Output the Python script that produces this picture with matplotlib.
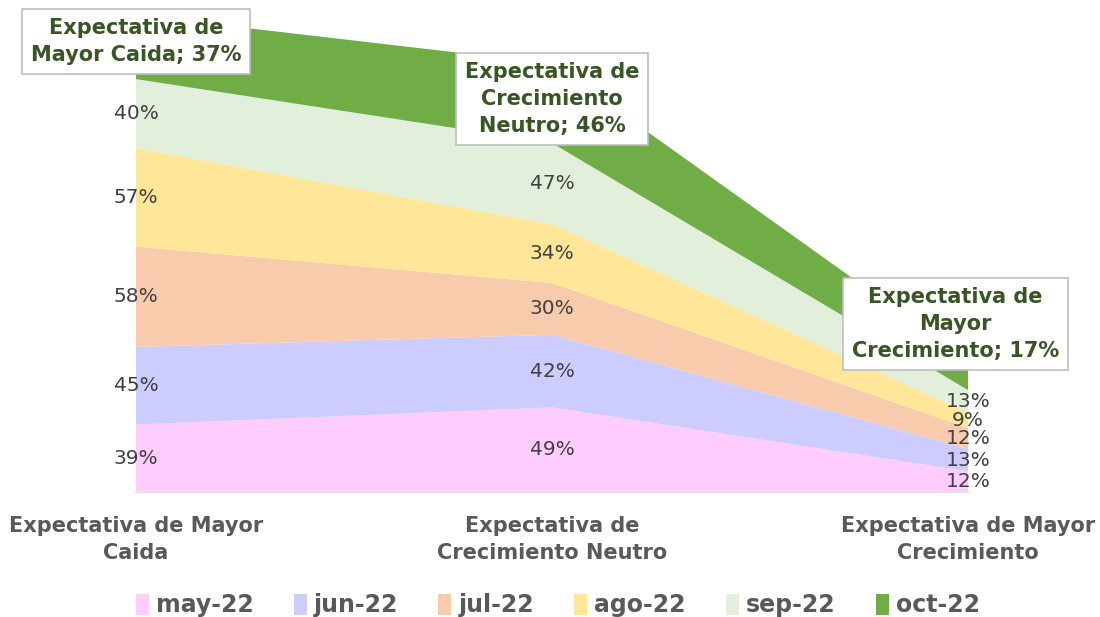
import numpy as np
import matplotlib
matplotlib.use("Agg")
import matplotlib.pyplot as plt

categories = ["Expectativa de Mayor\nCaida",
              "Expectativa de\nCrecimiento Neutro",
              "Expectativa de Mayor\nCrecimiento"]
box_names = ["Expectativa de\nMayor Caida",
             "Expectativa de\nCrecimiento\nNeutro",
             "Expectativa de\nMayor\nCrecimiento"]
series = ["may-22", "jun-22", "jul-22", "ago-22", "sep-22", "oct-22"]
may22 = [39, 49, 12]
jun22 = [45, 42, 13]
jul22 = [58, 30, 12]
ago22 = [57, 34, 9]
sep22 = [40, 47, 13]
oct22 = [37, 46, 17]
colors = ["#FFCCFF", "#CCCCFF", "#F8CBAD", "#FFE699", "#E2EFDA", "#70AD47"]

values = np.array([may22, jun22, jul22, ago22, sep22, oct22], dtype=float)
x = np.arange(len(categories))

plt.rcParams["font.family"] = ["DejaVu Sans"]

fig = plt.figure(figsize=(11, 6.17), dpi=100)
ax = fig.add_axes([0.1236, 0.2026, 0.7564, 0.784])
ax.stackplot(x, values, colors=colors, labels=series, linewidth=0)
ax.set_xlim(0, 2)
ax.set_ylim(0, 280)

tops = np.cumsum(values, axis=0)
mids = tops - values / 2
for i in range(len(series) - 1):
    for j in range(len(categories)):
        ax.text(x[j], mids[i, j], f"{int(values[i, j])}%", ha="center",
                va="center", fontsize=14.5, color="#404040",
                clip_on=False)

# callout boxes for the last series
offsets = [(0, 4), (0, 3), (-9, 37)]
for j in range(len(categories)):
    ax.annotate(f"{box_names[j]}; {int(oct22[j])}%",
                xy=(x[j], mids[-1, j]), xytext=offsets[j],
                textcoords="offset points", ha="center", va="center",
                fontsize=15, fontweight="bold", color="#375623",
                linespacing=1.45, annotation_clip=False,
                bbox=dict(boxstyle="square,pad=0.42", fc="white",
                          ec="#BFBFBF", lw=1.2))

ax.set_yticks([])
ax.set_xticks(x)
ax.set_xticklabels(categories, fontsize=15, fontweight="bold",
                   color="#595959", linespacing=1.45)
ax.tick_params(axis="x", length=0, pad=17)
for s in ["top", "right", "left"]:
    ax.spines[s].set_visible(False)
ax.spines["bottom"].set_color("#D9D9D9")
ax.spines["bottom"].set_linewidth(1.2)
ax.spines["bottom"].set_zorder(0)

leg = fig.legend(loc="lower center", bbox_to_anchor=(0.507, -0.035),
                 ncol=6, frameon=False, handlelength=0.55, handleheight=1.0,
                 handletextpad=0.3, columnspacing=1.7,
                 prop=dict(size=17, weight="bold"))
for t in leg.get_texts():
    t.set_color("#595959")

fig.savefig("out.png", dpi=100)
